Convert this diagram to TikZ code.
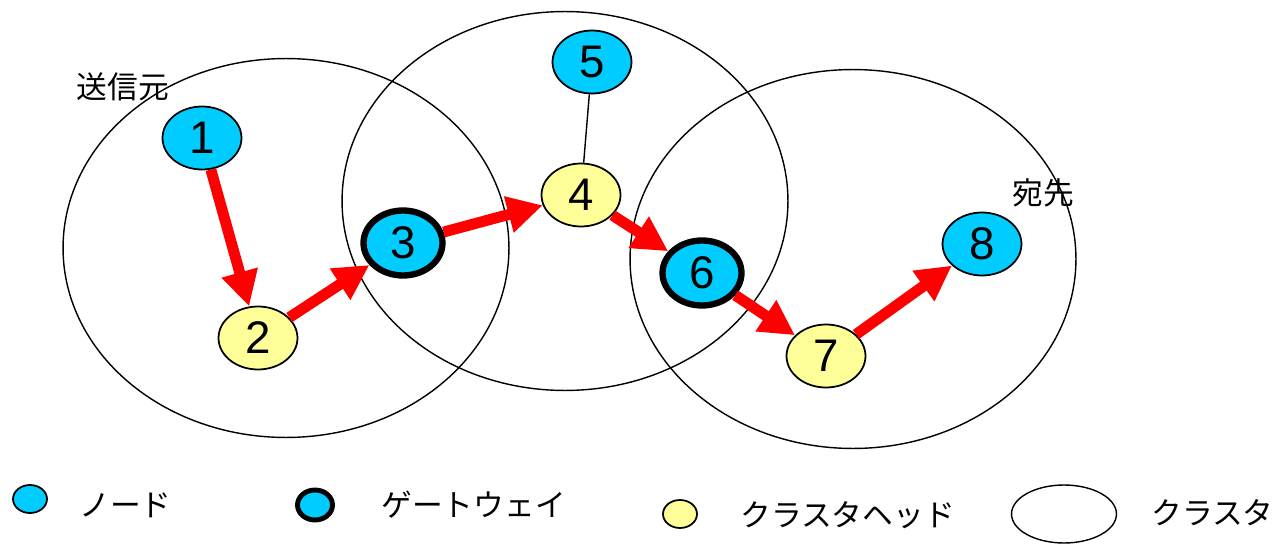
\documentclass[tikz,border=0pt]{standalone}
\usepackage{fontspec}
\setmainfont{Liberation Sans}
\newfontfamily\jpfont{Noto Sans CJK JP}
\usepackage{tikz}
\usetikzlibrary{shapes.geometric, arrows.meta}
\definecolor{NdBlue}{RGB}{0,204,255}
\definecolor{HdYellow}{RGB}{255,255,153}
\definecolor{ArRed}{RGB}{255,0,0}

\begin{document}
\begin{tikzpicture}[x=0.02cm, y=-0.02cm,
          nd/.style={ellipse, draw=black, line width=1pt, fill=NdBlue,
                     inner sep=0pt, minimum width=1.58cm, minimum height=1.26cm,
                     font=\fontsize{26}{26}\selectfont},
          gw/.style={nd, line width=3.6pt, minimum height=1.3cm},
          hd/.style={nd, fill=HdYellow},
          clu/.style={ellipse, draw=black, line width=0.8pt, inner sep=0pt,
                      minimum width=8.92cm, minimum height=7.58cm},
          arr/.style={-{Triangle[length=20pt, width=20pt]}, ArRed, line width=6.2pt},
          lbl/.style={inner sep=0pt, font=\jpfont\fontsize{17.5}{17.5}\selectfont}
        ]
        \useasboundingbox (0,0) rectangle (1278,544);
        % Clusters
        \node[clu] (c1) at (286,248) {};
        \node[clu] (c2) at (565,201) {};
        \node[clu] (c3) at (853,259) {};
        \node[lbl] (src) at (123,87) {送信元};
        \node[lbl] (dst) at (1043,193) {宛先};

        % Nodes
        \node[nd] (n1) at (202,138) {1};
        \node[hd] (n2) at (258,338) {2};
        \node[gw] (n3) at (403,243) {3};
        \node[hd] (n4) at (581,195) {4};
        \node[nd] (n5) at (592,62) {5};
        \node[gw] (n6) at (702,273) {6};
        \node[hd] (n7) at (826,356) {7};
        \node[nd] (n8) at (982,244) {8};

        % Route
        \draw[line width=0.8pt] (n5) -- (n4);
        \foreach \a/\b in {n1/n2, n2/n3, n3/n4, n4/n6, n6/n7, n7/n8} {
          \draw[arr] (\a) -- (\b);
        }

        % Legend
        \node[nd, minimum width=0.68cm, minimum height=0.56cm] (lnd) at (30,499) {};
        \node[lbl, anchor=west] (lndt) at (79,505) {ノード};
        \node[gw, line width=2.8pt, minimum width=0.7cm, minimum height=0.6cm]
              (lgw) at (315,505) {};
        \node[lbl, anchor=west] (lgwt) at (381,505) {ゲートウェイ};
        \node[hd, minimum width=0.68cm, minimum height=0.56cm] (lhd) at (680,514) {};
        \node[lbl, anchor=west] (lhdt) at (740,515) {クラスタヘッド};
        \node[clu, minimum width=2.1cm, minimum height=1.16cm] (lclu) at (1064,514) {};
        \node[lbl, anchor=west] (lclut) at (1151,513) {クラスタ};
      \end{tikzpicture}
\end{document}
